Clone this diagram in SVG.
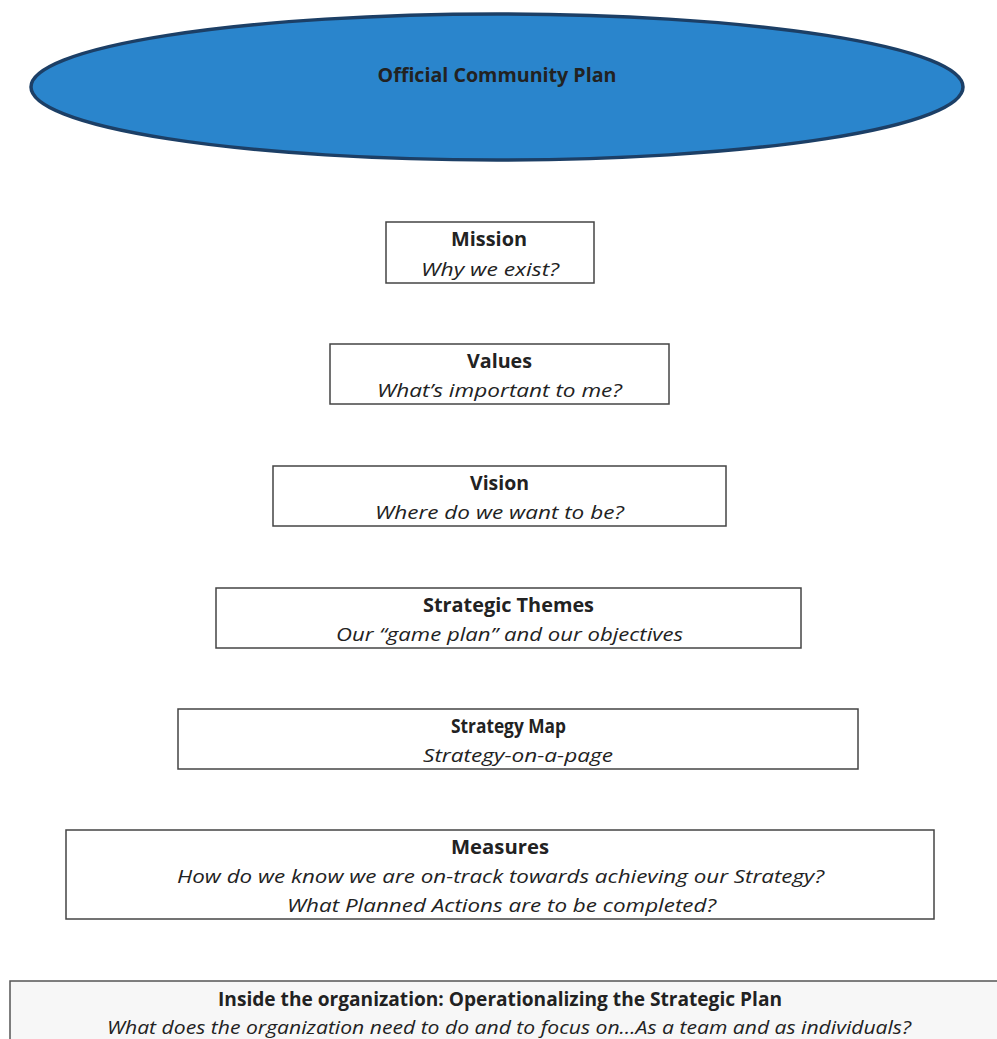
<svg xmlns="http://www.w3.org/2000/svg" width="997" height="1039" viewBox="0 0 997 1039">
<style>
.box{fill:#ffffff;stroke:#444444;stroke-width:1.5}
.t{font-family:"Open Sans","Noto Sans","Liberation Sans",sans-serif;font-size:19px;fill:#222222;text-anchor:middle}
.b{font-weight:bold}
.i{font-style:italic}
</style>
<rect width="997" height="1039" fill="#ffffff"/>
<g id="ocp">
<ellipse cx="497" cy="87" rx="466" ry="73" fill="#2a85cc" stroke="#1c3f66" stroke-width="3.5"/>
<text class="t b" x="497" y="82" font-size="17" textLength="239" lengthAdjust="spacingAndGlyphs">Official Community Plan</text>
</g>
<g id="mission">
<rect class="box" x="386" y="222" width="208" height="61"/>
<text class="t b" x="489" y="246" textLength="76" lengthAdjust="spacingAndGlyphs">Mission</text>
<text class="t i" x="490" y="276" textLength="138" lengthAdjust="spacingAndGlyphs">Why we exist?</text>
</g>
<g id="values">
<rect class="box" x="330" y="344" width="339" height="60"/>
<text class="t b" x="499.5" y="368" textLength="65" lengthAdjust="spacingAndGlyphs">Values</text>
<text class="t i" x="499.5" y="397" textLength="245" lengthAdjust="spacingAndGlyphs">What’s important to me?</text>
</g>
<g id="vision">
<rect class="box" x="273" y="466" width="453" height="60"/>
<text class="t b" x="499.5" y="490" textLength="59" lengthAdjust="spacingAndGlyphs">Vision</text>
<text class="t i" x="499.5" y="519" textLength="249" lengthAdjust="spacingAndGlyphs">Where do we want to be?</text>
</g>
<g id="themes">
<rect class="box" x="216" y="588" width="585" height="60"/>
<text class="t b" x="508.5" y="612" textLength="171" lengthAdjust="spacingAndGlyphs">Strategic Themes</text>
<text class="t i" x="509.5" y="641" textLength="347" lengthAdjust="spacingAndGlyphs">Our “game plan” and our objectives</text>
</g>
<g id="map">
<rect class="box" x="178" y="709" width="680" height="60"/>
<text class="t b" x="508.5" y="733" textLength="115" lengthAdjust="spacingAndGlyphs">Strategy Map</text>
<text class="t i" x="518" y="762" textLength="190" lengthAdjust="spacingAndGlyphs">Strategy-on-a-page</text>
</g>
<g id="measures">
<rect class="box" x="66" y="830" width="868" height="89"/>
<text class="t b" x="500" y="854" textLength="98" lengthAdjust="spacingAndGlyphs">Measures</text>
<text class="t i" x="500.5" y="883" textLength="647" lengthAdjust="spacingAndGlyphs">How do we know we are on-track towards achieving our Strategy?</text>
<text class="t i" x="501.5" y="912" textLength="429" lengthAdjust="spacingAndGlyphs">What Planned Actions are to be completed?</text>
</g>
<g id="inside">
<rect x="10" y="981" width="995" height="70" fill="#f7f7f7" stroke="#555555" stroke-width="1.5"/>
<text class="t b" x="500" y="1006" textLength="564" lengthAdjust="spacingAndGlyphs">Inside the organization: Operationalizing the Strategic Plan</text>
<text class="t i" x="509" y="1034" textLength="804" lengthAdjust="spacingAndGlyphs">What does the organization need to do and to focus on…As a team and as individuals?</text>
</g>
<g id="connectors"></g>
</svg>
